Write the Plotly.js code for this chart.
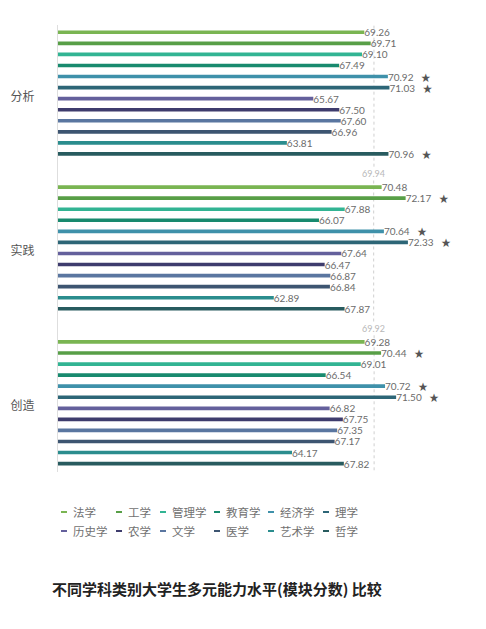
<!DOCTYPE html>
<html>
<head>
<meta charset="utf-8">
<script src="https://cdn.plot.ly/plotly-3.0.1.min.js"></script>
<style>
  html, body { margin: 0; padding: 0; background: #fff; }
  #chart { width: 486px; height: 629px; }
</style>
</head>
<body>
<div id="chart"></div>
<script>
// 不同学科类别大学生多元能力水平(模块分数) 比较
const groups = ['分析', '实践', '创造'];
const disciplines = ['法学', '工学', '管理学', '教育学', '经济学', '理学',
                     '历史学', '农学', '文学', '医学', '艺术学', '哲学'];

const analysisScores = [69.26, 69.71, 69.10, 67.49, 70.92, 71.03, 65.67, 67.50, 67.60, 66.96, 63.81, 70.96];
const practiceScores = [70.48, 72.17, 67.88, 66.07, 70.64, 72.33, 67.64, 66.47, 66.87, 66.84, 62.89, 67.87];
const creationScores = [69.28, 70.44, 69.01, 66.54, 70.72, 71.50, 66.82, 67.75, 67.35, 67.17, 64.17, 67.82];
const groupMeans = [69.94, 69.92, 69.95];

// disciplines marked with a star in each module
const starredAnalysis = ['经济学', '理学', '哲学'];
const starredPractice = ['工学', '经济学', '理学'];
const starredCreation = ['工学', '经济学', '理学'];

const colors = ['#7ab552', '#589f47', '#32b493', '#188a6e', '#3f91aa', '#2d6677',
                '#64609c', '#3e3c6d', '#5a76a0', '#3d5571', '#2b8d8e', '#285b5f'];

// layout helpers (pixels -> paper)
const W = 486, H = 629;
const M = { l: 58, r: 16, t: 25, b: 157 };
const plotW = W - M.l - M.r, plotH = H - M.t - M.b;
const px = x => (x - M.l) / plotW;
const py = y => (H - M.b - y) / plotH;

const GROUP_STRIDE = 14;   // slots between the first bars of two modules
const allScores = [analysisScores, practiceScores, creationScores];
const allStars = [starredAnalysis, starredPractice, starredCreation];

const star = '\u00a0\u00a0\u00a0<span style="color:#555;font-size:9.5px">★</span>';

const traces = disciplines.map((name, i) => ({
    type: 'bar',
    orientation: 'h',
    name: name,
    y: groups.map((g, gi) => gi * GROUP_STRIDE + i),
    x: allScores.map(s => s[i]),
    width: 0.33,
    marker: { color: colors[i] },
    text: allScores.map((s, gi) => s[i].toFixed(2) + (allStars[gi].includes(name) ? star : '')),
    textposition: 'outside',
    constraintext: 'none',
    cliponaxis: false,
    textfont: { size: 10, color: '#6b6b6b' },
    hoverinfo: 'skip',
    showlegend: false
}));

// group mean reference lines
const shapes = groupMeans.map((m, gi) => ({
    type: 'line', xref: 'x', yref: 'y',
    x0: m, x1: m,
    y0: gi * GROUP_STRIDE - 0.6, y1: gi * GROUP_STRIDE + 12.2,
    line: { color: '#cfcfcf', width: 1, dash: 'dot' },
    layer: 'below'
}));

const annotations = groupMeans.map((m, gi) => ({
    xref: 'x', yref: 'y', x: m, y: gi * GROUP_STRIDE + 12.8,
    text: m.toFixed(2), showarrow: false,
    font: { size: 9, color: '#b8b8b8' }
}));

// custom legend (short dash + name), two rows of six
const legendRows = [512, 531];
const legendCols = [61, 116, 160, 214, 268, 323];
disciplines.forEach((name, i) => {
    const x = legendCols[i % 6], y = legendRows[Math.floor(i / 6)];
    shapes.push({
        type: 'line', xref: 'paper', yref: 'paper',
        x0: px(x), x1: px(x + 6), y0: py(y), y1: py(y),
        line: { color: colors[i], width: 2 }
    });
    annotations.push({
        xref: 'paper', yref: 'paper', x: px(x + 10), y: py(y),
        xanchor: 'left', yanchor: 'middle', showarrow: false,
        text: name, font: { size: 11.5, color: '#717171' }
    });
});

const nSlots = (groups.length - 1) * GROUP_STRIDE + disciplines.length;

const layout = {
    width: W, height: H,
    margin: M,
    paper_bgcolor: '#fff', plot_bgcolor: '#fff',
    font: { family: 'Lato, "Noto Sans CJK SC", sans-serif', color: '#666' },
    barmode: 'overlay',
    showlegend: false,
    title: {
        text: '<b>不同学科类别大学生多元能力水平(模块分数) 比较</b>',
        x: 52 / W, xref: 'container', xanchor: 'left',
        y: 1 - 590 / H, yref: 'container', yanchor: 'middle',
        font: { family: '"Noto Sans CJK SC", sans-serif', size: 15, color: '#222' }
    },
    xaxis: {
        range: [47.7, 76.7],
        visible: false,
        showgrid: false, zeroline: false
    },
    yaxis: {
        range: [nSlots - 0.24, -0.66],
        tickvals: groups.map((g, gi) => gi * GROUP_STRIDE + 5.8),
        ticktext: groups,
        ticks: '',
        ticklabelstandoff: 20,
        tickfont: { family: '"Noto Sans CJK SC", sans-serif', size: 12, color: '#555' },
        showgrid: false, zeroline: false,
        showline: true, linecolor: '#dedede', linewidth: 1
    },
    shapes: shapes,
    annotations: annotations
};

Plotly.newPlot('chart', traces, layout, { displayModeBar: false, staticPlot: true });
</script>
</body>
</html>
